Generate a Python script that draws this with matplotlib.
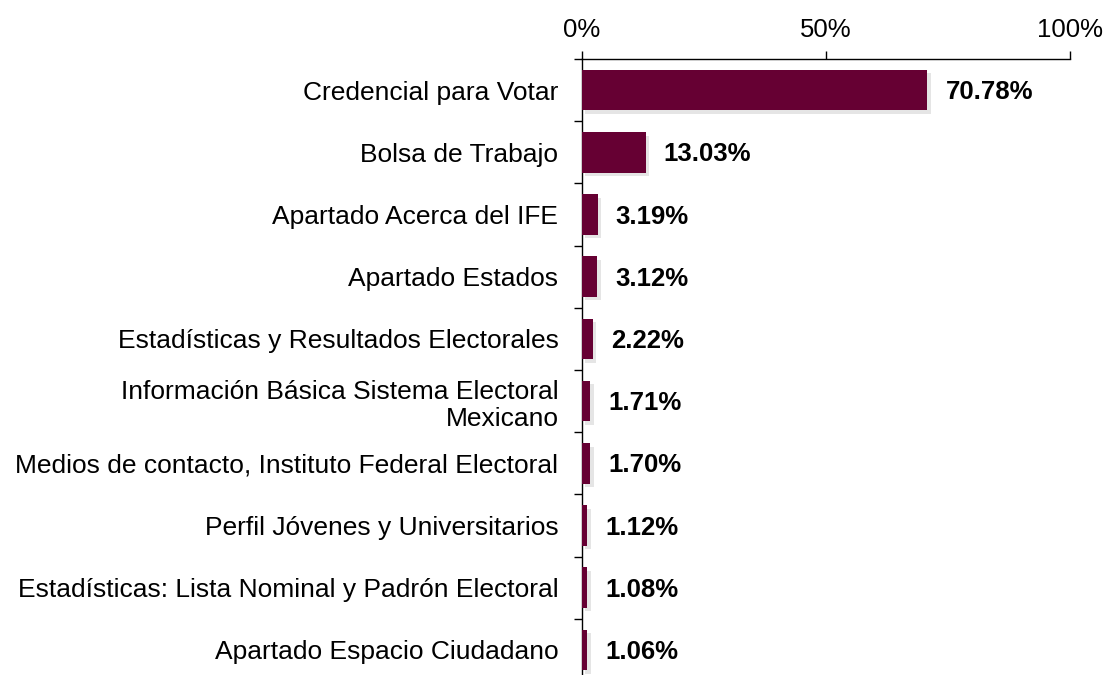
import matplotlib
matplotlib.use("Agg")
import matplotlib.pyplot as plt
import matplotlib.patheffects as pe
import numpy as np

categories = [
    "Credencial para Votar",
    "Bolsa de Trabajo",
    "Apartado Acerca del IFE",
    "Apartado Estados",
    "Estadísticas y Resultados Electorales",
    "Información Básica Sistema Electoral\nMexicano",
    "Medios de contacto, Instituto Federal Electoral",
    "Perfil Jóvenes y Universitarios",
    "Estadísticas: Lista Nominal y Padrón Electoral",
    "Apartado Espacio Ciudadano",
]
values = [70.78, 13.03, 3.19, 3.12, 2.22, 1.71, 1.70, 1.12, 1.08, 1.06]
x_ticks = [0, 50, 100]
x_labels = ["0%", "50%", "100%"]

plt.rcParams['font.family'] = ['Liberation Sans', 'DejaVu Sans']

fig = plt.figure(figsize=(11.06, 6.75), dpi=100)
ax = fig.add_axes([582/1106, 1 - 681/675, 488/1106, 622/675])

y = np.arange(len(categories))
bars = ax.barh(y, values, height=0.65, color="#660033", zorder=3)
for b in bars:
    b.set_path_effects([pe.SimplePatchShadow(offset=(2.5, -2.5), shadow_rgbFace="#999999", alpha=0.25), pe.Normal()])

for yi, v in zip(y, values):
    ax.annotate(f"{v:.2f}%", xy=(v, yi), xytext=(13, -1.5), textcoords="offset points",
                va="center", ha="left", fontsize=18.5, fontweight="bold", color="black")

ax.set_xlim(0, 100)
ax.set_ylim(len(categories) - 0.5, -0.5)

ax.xaxis.tick_top()
ax.set_xticks(x_ticks)
ax.set_xticklabels(x_labels, fontsize=18.5)
ax.tick_params(axis="x", direction="out", length=6, width=1, pad=6, colors="black")

ax.set_yticks(y)
ax.set_yticklabels(categories, fontsize=19, linespacing=1.2)
ax.tick_params(axis="y", which="major", length=0, pad=17)
ax.set_yticks(np.arange(len(categories) + 1) - 0.5, minor=True)
ax.tick_params(axis="y", which="minor", length=6, width=1, direction="out")

for s in ["right", "bottom"]:
    ax.spines[s].set_visible(False)
ax.spines["top"].set_linewidth(1)
ax.spines["left"].set_linewidth(1)

fig.savefig("out.png", dpi=100)
